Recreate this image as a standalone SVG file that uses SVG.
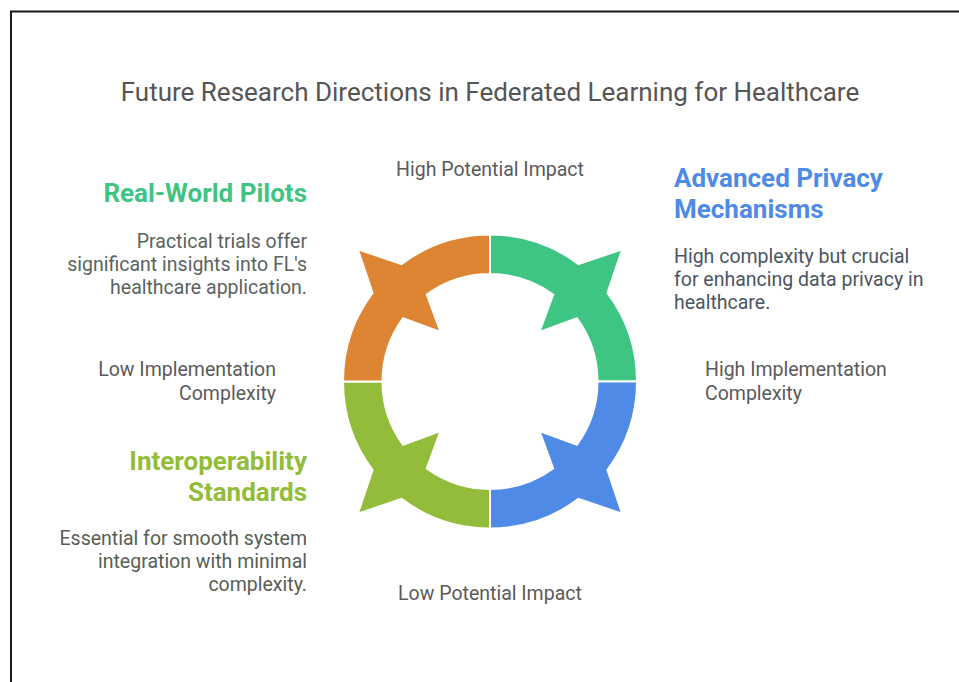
<svg xmlns="http://www.w3.org/2000/svg" xmlns:xlink="http://www.w3.org/1999/xlink" width="959" height="682" viewBox="0 0 959 682">
  <style>
    .title { font-family: Roboto, "Liberation Sans", sans-serif; font-size: 26px; fill: #555555; }
    .axis { font-family: Roboto, "Liberation Sans", sans-serif; font-size: 19.5px; fill: #5a5a5a; }
    .head { font-family: Roboto, "Liberation Sans", sans-serif; font-size: 26px; font-weight: bold; }
    .body { font-family: Roboto, "Liberation Sans", sans-serif; font-size: 19.5px; }
    .seg { stroke: #ffffff; stroke-width: 2; stroke-linejoin: miter; }
    .end { text-anchor: end; }
    .mid { text-anchor: middle; }
  </style>
  <defs>
    <!-- one quarter of the ring (top-right), with its star-shaped head at 45 degrees -->
    <path id="quarter" d="M490,234.5 A147,147 0 0 1 578.5,264.1 L622.2,249.3 L607.4,293.0 A147,147 0 0 1 637,381.5 L597.5,381.5 A107.5,107.5 0 0 0 577,318.3 L539.5,332 L553.2,294.5 A107.5,107.5 0 0 0 490,274 Z"/>
  </defs>

  <rect width="959" height="682" fill="#ffffff"/>
  <!-- frame -->
  <path d="M11,690 V11.5 H970" fill="none" stroke="#1a1a1a" stroke-width="2"/>

  <text class="title mid" x="490" y="101">Future Research Directions in Federated Learning for Healthcare</text>

  <g id="axes">
    <text class="axis mid" x="490" y="176">High Potential Impact</text>
    <text class="axis mid" x="490" y="600">Low Potential Impact</text>
    <text class="axis end" x="276" y="376">Low Implementation</text>
    <text class="axis end" x="276" y="400">Complexity</text>
    <text class="axis" x="705" y="376">High Implementation</text>
    <text class="axis" x="705" y="400">Complexity</text>
  </g>

  <g id="advanced-privacy">
    <use xlink:href="#quarter" class="seg" fill="#3ec483"/>
    <text class="head" x="674" y="187" fill="#4e8ae6">Advanced Privacy</text>
    <text class="head" x="674" y="218" fill="#4e8ae6">Mechanisms</text>
    <text class="body" x="674" y="263" fill="#4b5563">High complexity but crucial</text>
    <text class="body" x="674" y="286" fill="#4b5563">for enhancing data privacy in</text>
    <text class="body" x="674" y="309" fill="#4b5563">healthcare.</text>
  </g>

  <g id="quadrant-bottom-right">
    <use xlink:href="#quarter" class="seg" fill="#4e8ae6" transform="rotate(90 490 381.5)"/>
  </g>

  <g id="interoperability-standards">
    <use xlink:href="#quarter" class="seg" fill="#93bc3b" transform="rotate(180 490 381.5)"/>
    <text class="head end" x="307" y="470" fill="#93bc3b">Interoperability</text>
    <text class="head end" x="307" y="501" fill="#93bc3b">Standards</text>
    <text class="body end" x="307" y="545" fill="#585e53">Essential for smooth system</text>
    <text class="body end" x="307" y="568" fill="#585e53">integration with minimal</text>
    <text class="body end" x="307" y="591" fill="#585e53">complexity.</text>
  </g>

  <g id="real-world-pilots">
    <use xlink:href="#quarter" class="seg" fill="#de8533" transform="rotate(270 490 381.5)"/>
    <text class="head end" x="307" y="202" fill="#3ec483">Real-World Pilots</text>
    <text class="body end" x="307" y="248" fill="#5a6360">Practical trials offer</text>
    <text class="body end" x="307" y="271" fill="#5a6360">significant insights into FL's</text>
    <text class="body end" x="307" y="294" fill="#5a6360">healthcare application.</text>
  </g>
</svg>
